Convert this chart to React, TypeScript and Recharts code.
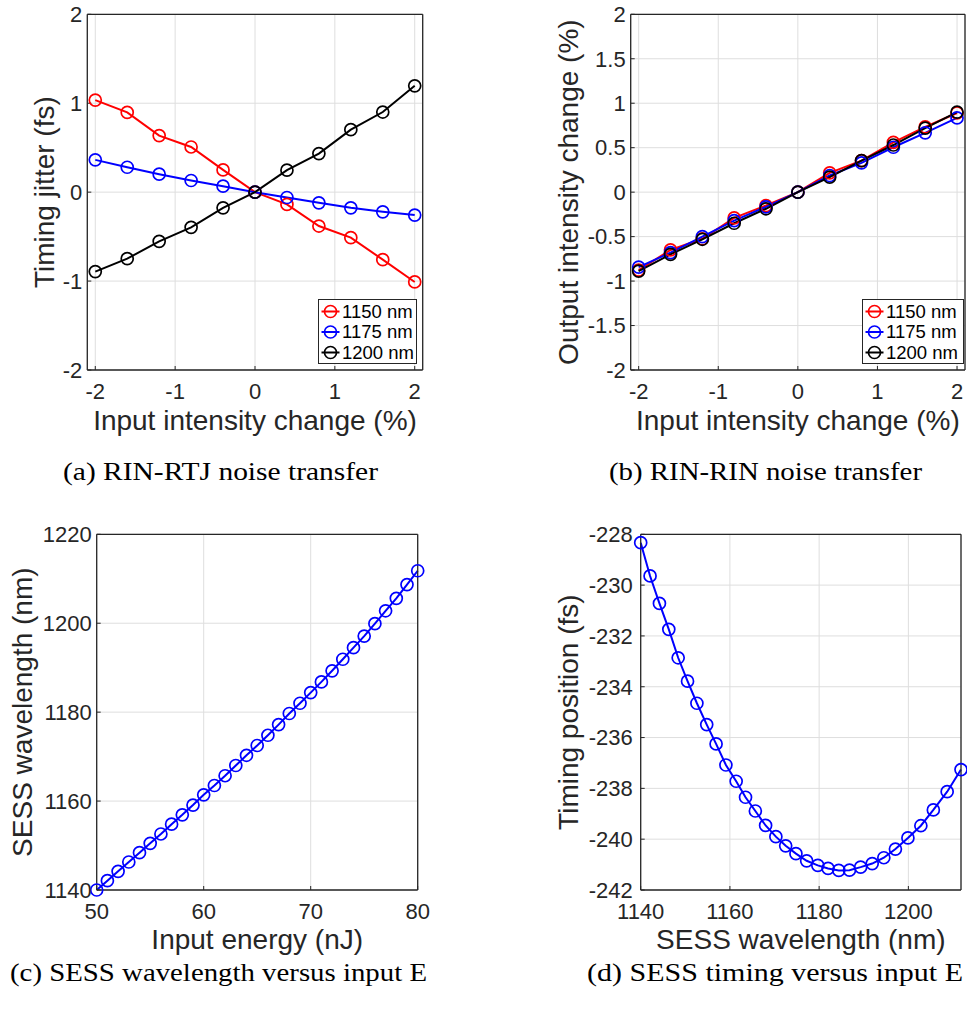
import React from "react";
import { LineChart, Line, XAxis, YAxis, CartesianGrid, Legend, Label } from "recharts";

// (a)/(b) input intensity steps
const inputChange = [-2, -1.6, -1.2, -0.8, -0.4, 0, 0.4, 0.8, 1.2, 1.6, 2];

// (a) timing jitter, fs
const jitter1150 = [1.035, 0.897, 0.636, 0.508, 0.25, 0, -0.138, -0.381, -0.512, -0.759, -1.01];
const jitter1175 = [0.363, 0.28, 0.202, 0.131, 0.067, 0, -0.06, -0.12, -0.176, -0.221, -0.258];
const jitter1200 = [-0.893, -0.748, -0.553, -0.396, -0.176, 0, 0.247, 0.434, 0.703, 0.901, 1.196];

// (b) output intensity change, %
const rin1150 = [-0.876, -0.65, -0.524, -0.29, -0.15, 0, 0.217, 0.355, 0.56, 0.733, 0.89];
const rin1175 = [-0.843, -0.68, -0.5, -0.32, -0.165, 0, 0.187, 0.33, 0.505, 0.667, 0.835];
const rin1200 = [-0.888, -0.7, -0.53, -0.35, -0.187, 0, 0.168, 0.355, 0.53, 0.72, 0.9];

// (c) input energy (nJ) -> SESS wavelength (nm)
const energy = [
  50, 51, 52, 53, 54, 55, 56, 57, 58, 59, 60, 61, 62, 63, 64, 65,
  66, 67, 68, 69, 70, 71, 72, 73, 74, 75, 76, 77, 78, 79, 80,
];
const wavelength = [
  1140.0, 1142.1, 1144.2, 1146.3, 1148.4, 1150.5, 1152.6, 1154.8, 1156.9, 1159.1,
  1161.4, 1163.5, 1165.7, 1168.0, 1170.3, 1172.5, 1174.8, 1177.2, 1179.7, 1182.0,
  1184.4, 1186.8, 1189.3, 1191.9, 1194.5, 1197.1, 1199.9, 1202.8, 1205.6, 1208.7, 1211.8,
];

// (d) timing position, fs
const timing = [
  -228.33, -229.64, -230.72, -231.74, -232.86, -233.78, -234.65, -235.49, -236.25, -237.08,
  -237.72, -238.35, -238.89, -239.46, -239.9, -240.26, -240.57, -240.85, -241.03, -241.15,
  -241.23, -241.22, -241.1, -240.96, -240.73, -240.39, -239.95, -239.47, -238.85, -238.13, -237.26,
];

const intensityTicks = [-2, -1, 0, 1, 2];
const jitterTicks = [-2, -1, 0, 1, 2];
const rinTicks = [-2, -1.5, -1, -0.5, 0, 0.5, 1, 1.5, 2];
const energyTicks = [50, 60, 70, 80];
const wavelengthTicks = [1140, 1160, 1180, 1200, 1220];
const wlAxisTicks = [1140, 1160, 1180, 1200];
const timingTicks = [-242, -240, -238, -236, -234, -232, -230, -228];

const captions = [
  { text: "(a) RIN-RTJ noise transfer", x: 63, y: 480, len: 315 },
  { text: "(b) RIN-RIN noise transfer", x: 609, y: 480, len: 313 },
  { text: "(c) SESS wavelength versus input E", x: 10, y: 981, len: 417 },
  { text: "(d) SESS timing versus input E", x: 587, y: 981, len: 376 },
];

const jitterRows = inputChange.map((x, i) => ({
  x,
  a: jitter1150[i],
  b: jitter1175[i],
  c: jitter1200[i],
}));
const rinRows = inputChange.map((x, i) => ({ x, a: rin1150[i], b: rin1175[i], c: rin1200[i] }));
const energyRows = energy.map((e, i) => ({ e, wl: wavelength[i] }));
const timingRows = wavelength.map((wl, i) => ({ wl, t: timing[i] }));

const AXIS_COLOR = "#262626";
const GRID_COLOR = "#dedede";
const SANS = "'Liberation Sans', Arial, sans-serif";
const Y_AXIS_W = 70;
const X_AXIS_H = 70;

type Box = { left: number; top: number; width: number; height: number };
type Plot = { x0: number; x1: number; y0: number; y1: number };

function marginsFor(box: Box, plot: Plot) {
  // top/right mirror axes are 1px thick
  return {
    top: plot.y0 - box.top - 1,
    left: plot.x0 - box.left - Y_AXIS_W,
    right: box.left + box.width - plot.x1 - 1,
    bottom: box.top + box.height - plot.y1 - X_AXIS_H,
  };
}

function YTitle({ viewBox, text, gap }: any) {
  const x = viewBox.x + viewBox.width - gap;
  const y = viewBox.y + viewBox.height / 2;
  return (
    <text
      x={x}
      y={y}
      transform={`rotate(-90 ${x} ${y})`}
      textAnchor="middle"
      fill={AXIS_COLOR}
      fontSize={28}
      fontFamily={SANS}
    >
      {text}
    </text>
  );
}

function XTitle({ viewBox, text, drop }: any) {
  return (
    <text
      x={viewBox.x + viewBox.width / 2}
      y={viewBox.y + drop}
      textAnchor="middle"
      fill={AXIS_COLOR}
      fontSize={28}
      fontFamily={SANS}
    >
      {text}
    </text>
  );
}

function BoxLegend({ payload, width }: any) {
  const items = payload ?? [];
  return (
    <svg width={width} height={65} style={{ display: "block", overflow: "visible" }}>
      <rect x={0.5} y={0.5} width={width - 1} height={64} fill="#fff" stroke={AXIS_COLOR} strokeWidth={1} />
      {items.map((it: any, i: number) => {
        const cy = 12.5 + i * 20.5;
        return (
          <g key={it.value}>
            <line x1={3.5} x2={21.5} y1={cy} y2={cy} stroke={it.color} strokeWidth={2} />
            <circle cx={12.5} cy={cy} r={6} fill="none" stroke={it.color} strokeWidth={1.7} />
            <text x={24} y={cy} dy="0.35em" fontSize={18.5} fontFamily={SANS} fill="#000">
              {it.value}
            </text>
          </g>
        );
      })}
    </svg>
  );
}

const tickStyle = { fill: AXIS_COLOR, fontSize: 22, fontFamily: SANS };
const axisLineStyle = { stroke: AXIS_COLOR, strokeWidth: 1.3 };
const tickLineStyle = { stroke: AXIS_COLOR, strokeWidth: 1 };

function dotFor(color: string) {
  return { r: 6, stroke: color, strokeWidth: 1.7, fill: "none" };
}

type PanelProps = {
  box: Box;
  plot: Plot;
  data: any[];
  xKey: string;
  xDomain: [number, number];
  xTicks: number[];
  yDomain: [number, number];
  yTicks: number[];
  xTitle: string;
  yTitle: string;
  yGap: number;
  xDrop: number;
  yTickMargin: number;
  series: { key: string; name: string; color: string }[];
  legend?: { x: number; y: number; width: number };
};

function Panel(p: PanelProps) {
  const margin = marginsFor(p.box, p.plot);
  return (
    <div style={{ position: "absolute", left: p.box.left, top: p.box.top }}>
      <LineChart width={p.box.width} height={p.box.height} data={p.data} margin={margin}>
        <CartesianGrid stroke={GRID_COLOR} strokeWidth={1} />
        <XAxis
          type="number"
          dataKey={p.xKey}
          domain={p.xDomain}
          ticks={p.xTicks}
          interval={0}
          height={X_AXIS_H}
          tickSize={-4}
          tickMargin={17.4}
          tick={tickStyle}
          axisLine={axisLineStyle}
          tickLine={tickLineStyle}
        >
          <Label content={(lp: any) => <XTitle {...lp} text={p.xTitle} drop={p.xDrop} />} />
        </XAxis>
        <XAxis
          xAxisId="top"
          orientation="top"
          type="number"
          domain={p.xDomain}
          ticks={p.xTicks}
          interval={0}
          height={1}
          tickSize={-4}
          tick={false}
          axisLine={axisLineStyle}
          tickLine={tickLineStyle}
        />
        <YAxis
          type="number"
          domain={p.yDomain}
          ticks={p.yTicks}
          interval={0}
          width={Y_AXIS_W}
          tickSize={-4}
          tickMargin={p.yTickMargin}
          tick={tickStyle}
          axisLine={axisLineStyle}
          tickLine={tickLineStyle}
        >
          <Label content={(lp: any) => <YTitle {...lp} text={p.yTitle} gap={p.yGap} />} />
        </YAxis>
        <YAxis
          yAxisId="right"
          orientation="right"
          type="number"
          domain={p.yDomain}
          ticks={p.yTicks}
          interval={0}
          width={1}
          tickSize={-4}
          tick={false}
          axisLine={axisLineStyle}
          tickLine={tickLineStyle}
        />
        {p.series.map((s) => (
          <Line
            key={s.key}
            type="linear"
            dataKey={s.key}
            name={s.name}
            stroke={s.color}
            strokeWidth={2}
            dot={dotFor(s.color)}
            activeDot={false}
            isAnimationActive={false}
          />
        ))}
        {p.legend && (
          <Legend
            layout="horizontal"
            verticalAlign="middle"
            align="center"
            wrapperStyle={{
              left: p.legend.x - p.box.left,
              top: p.legend.y - p.box.top,
              width: p.legend.width,
              height: 65,
            }}
            content={(lp: any) => <BoxLegend {...lp} width={p.legend!.width} />}
          />
        )}
      </LineChart>
    </div>
  );
}

const threeSeries = [
  { key: "a", name: "1150 nm", color: "#ff0000" },
  { key: "b", name: "1175 nm", color: "#0000ff" },
  { key: "c", name: "1200 nm", color: "#000000" },
];

export default function App() {
  return (
    <div
      style={{
        position: "absolute",
        left: 0,
        top: 0,
        width: 967,
        height: 1012,
        background: "#fff",
        overflow: "hidden",
      }}
    >
      <Panel
        box={{ left: 0, top: 0, width: 480, height: 450 }}
        plot={{ x0: 87.3, x1: 422.7, y0: 14.3, y1: 370 }}
        data={jitterRows}
        xKey="x"
        xDomain={[-2.1, 2.1]}
        xTicks={intensityTicks}
        yDomain={[-2, 2]}
        yTicks={jitterTicks}
        xTitle="Input intensity change (%)"
        yTitle="Timing jitter (fs)"
        yGap={33}
        xDrop={60}
        yTickMargin={9}
        series={threeSeries}
        legend={{ x: 318.3, y: 299.3, width: 99 }}
      />
      <Panel
        box={{ left: 480, top: 0, width: 487, height: 450 }}
        plot={{ x0: 630.7, x1: 965, y0: 14.3, y1: 370 }}
        data={rinRows}
        xKey="x"
        xDomain={[-2.1, 2.1]}
        xTicks={intensityTicks}
        yDomain={[-2, 2]}
        yTicks={rinTicks}
        xTitle="Input intensity change (%)"
        yTitle="Output intensity change (%)"
        yGap={52.7}
        xDrop={60}
        yTickMargin={9}
        series={threeSeries}
        legend={{ x: 862.3, y: 299.3, width: 102 }}
      />
      <Panel
        box={{ left: 0, top: 500, width: 480, height: 470 }}
        plot={{ x0: 96.7, x1: 417.7, y0: 534.3, y1: 890 }}
        data={energyRows}
        xKey="e"
        xDomain={[50, 80]}
        xTicks={energyTicks}
        yDomain={[1140, 1220]}
        yTicks={wavelengthTicks}
        xTitle="Input energy (nJ)"
        yTitle="SESS wavelength (nm)"
        yGap={64.7}
        xDrop={59}
        yTickMargin={9}
        series={[{ key: "wl", name: "SESS wavelength", color: "#0000ff" }]}
      />
      <Panel
        box={{ left: 480, top: 500, width: 487, height: 470 }}
        plot={{ x0: 640.7, x1: 961, y0: 534.3, y1: 890 }}
        data={timingRows}
        xKey="wl"
        xDomain={[wavelength[0], wavelength[wavelength.length - 1]]}
        xTicks={wlAxisTicks}
        yDomain={[-242, -228]}
        yTicks={timingTicks}
        xTitle="SESS wavelength (nm)"
        yTitle="Timing position (fs)"
        yGap={62.2}
        xDrop={59}
        yTickMargin={12}
        series={[{ key: "t", name: "Timing position", color: "#0000ff" }]}
      />
      <svg
        width={967}
        height={1012}
        style={{ position: "absolute", left: 0, top: 0, pointerEvents: "none" }}
      >
        {captions.map((c) => (
          <text
            key={c.text}
            x={c.x}
            y={c.y}
            textLength={c.len}
            lengthAdjust="spacingAndGlyphs"
            fontSize={26}
            fontFamily="'Liberation Serif', serif"
            fill="#000"
          >
            {c.text}
          </text>
        ))}
      </svg>
    </div>
  );
}
